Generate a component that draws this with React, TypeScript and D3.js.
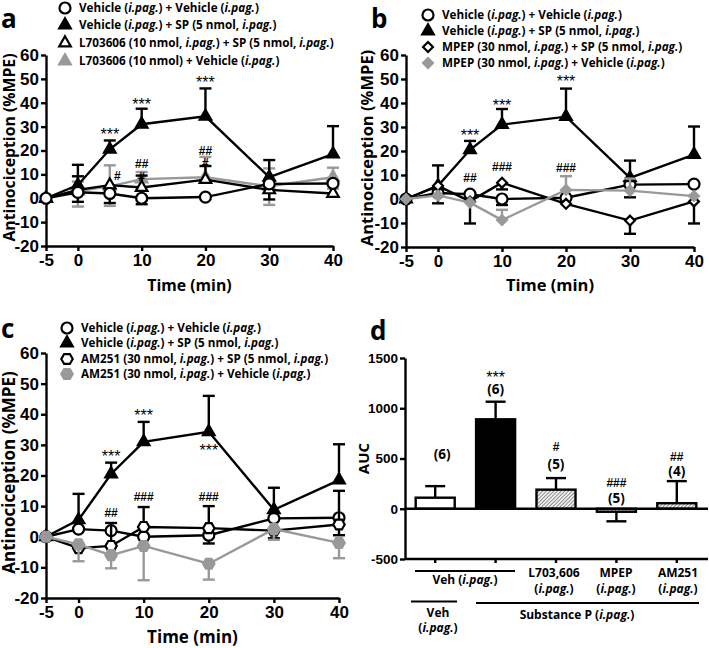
import React from "react";
import * as d3 from "d3";

const FONT = "'Open Sans', sans-serif";
const TICK_FONT = "'Liberation Sans', sans-serif";
const TIMES = [-5, 0, 5, 10, 20, 30, 40];
const X_TICKS = [-5, 0, 10, 20, 30, 40];
const Y_TICKS = [-20, -10, 0, 10, 20, 30, 40, 50, 60];
const BLACK = "#000";
const GREY = "#999";
const LINE_W = 2.4;

type Val = number | null;
type Row = {
  label: [string, boolean][];
  shape: string;
  color: string;
  fill: string;
  mean: number[];
  upper: Val[];
  lower: Val[];
};

const vehVehMean = [0, 2.5, 2, 0, 0.5, 6, 6.2];
const vehSpMean = [0, 5.5, 20.5, 31, 34.3, 8.8, 18.5];
const vehSpUpper: Val[] = [null, 14, 24.2, 37.5, 46, 16, 30.2];

const lSpMean = [0, 3.5, 5.5, 4.5, 7.8, 3.5, 2];
const lVehMean = [0, 3, 5, 8, 8.8, 5, 8.8];
const mSpMean = [0, 5.5, -1, 6.8, -2, -9, -1];
const mVehMean = [0, 1.5, -1.5, -8.8, 3.8, 3.5, 1.2];
const amSpMean = [0, -3.7, -3, 3.2, 2.8, 2, 4];
const amVehMean = [0, -2.5, -6, -3, -8.8, 2.5, -2];

const vehLabel: [string, boolean][] = [
  ["Vehicle (", false], ["i.pag.", true], [") + Vehicle (", false], ["i.pag.", true], [")", false],
];
const vehSpLabel: [string, boolean][] = [
  ["Vehicle (", false], ["i.pag.", true], [") + SP (5 nmol, ", false], ["i.pag.", true], [")", false],
];
const drugSpLabel = (d: string): [string, boolean][] => [
  [d + " nmol, ", false], ["i.pag.", true], [") + SP (5 nmol, ", false], ["i.pag.", true], [")", false],
];
const drugVehLabel = (d: string): [string, boolean][] => [
  [d + " nmol, ", false], ["i.pag.", true], [") + Vehicle (", false], ["i.pag.", true], [")", false],
];

const panelA: Row[] = [
  { label: vehLabel, shape: "circle", color: BLACK, fill: "#fff", mean: vehVehMean,
    upper: [null, 9.2, null, null, null, null, null], lower: [null, -1.5, -2, -2.5, null, null, null] },
  { label: vehSpLabel, shape: "triangle", color: BLACK, fill: BLACK, mean: vehSpMean, upper: vehSpUpper,
    lower: [null, null, null, null, null, null, null] },
  { label: drugSpLabel("L703606 (10"), shape: "triangle", color: BLACK, fill: "#fff", mean: lSpMean,
    upper: [null, null, null, 9.5, 13.5, null, null], lower: [null, null, null, null, null, -0.5, null] },
  { label: [["L703606 (10 nmol) + Vehicle (", false], ["i.pag.", true], [")", false]], shape: "triangle", color: GREY, fill: GREY, mean: lVehMean,
    upper: [null, 7, 13.8, 11, 17.3, 12.5, 12.8], lower: [null, -3.5, -3.2, -1, null, -2.8, 4] },
];
const orderA = [3, 1, 2, 0];

const panelB: Row[] = [
  { label: vehLabel, shape: "circle", color: BLACK, fill: "#fff", mean: vehVehMean,
    upper: [null, null, null, null, null, null, null], lower: [null, -1.8, null, -2.5, null, 0.7, null] },
  { label: vehSpLabel, shape: "triangle", color: BLACK, fill: BLACK, mean: vehSpMean, upper: vehSpUpper,
    lower: [null, null, null, null, null, null, null] },
  { label: drugSpLabel("MPEP (30"), shape: "diamond", color: BLACK, fill: "#fff", mean: mSpMean,
    upper: [null, null, null, null, null, null, null], lower: [null, null, -10.2, 4, null, -14.5, -10.2] },
  { label: drugVehLabel("MPEP (30"), shape: "diamond", color: GREY, fill: GREY, mean: mVehMean,
    upper: [null, null, null, -4.5, 9.5, 8.5, null], lower: [null, null, null, null, null, null, null] },
];
const orderB = [0, 1, 2, 3];

const panelC: Row[] = [
  { label: vehLabel, shape: "circle", color: BLACK, fill: "#fff", mean: vehVehMean,
    upper: [null, null, null, null, null, null, null], lower: [null, null, null, null, -2.2, null, null] },
  { label: vehSpLabel, shape: "triangle", color: BLACK, fill: BLACK, mean: vehSpMean, upper: vehSpUpper,
    lower: [null, null, null, null, null, null, null] },
  { label: drugSpLabel("AM251 (30"), shape: "hexagon", color: BLACK, fill: "#fff", mean: amSpMean,
    upper: [null, null, 4.5, 9.7, 10, null, 15], lower: [null, null, null, null, null, -0.5, 0.5] },
  { label: drugVehLabel("AM251 (30"), shape: "hexagon", color: GREY, fill: GREY, mean: amVehMean,
    upper: [null, null, null, null, null, null, null], lower: [null, -8, -10.3, -14.2, -14, -1, -7] },
];
const orderC = [0, 1, 2, 3];

// time, value (centre of the glyphs), text
const notesA: [number, number, string][] = [
  [5, 28.5, "***"], [10, 41, "***"], [20, 50, "***"], [6.2, 9.5, "#"],
  [10, 14.5, "##"], [20, 20, "##"], [20, 15, "#"], [10, 9, "#"],
];
const notesB: [number, number, string][] = [
  [5, 28, "***"], [10, 40.5, "***"], [20, 50.5, "***"], [5, 8.8, "##"], [10, 13.5, "###"], [20, 13, "###"],
];
const notesC: [number, number, string][] = [
  [5, 27.5, "***"], [10, 41, "***"], [20, 29.5, "***"], [5, 8, "##"], [10, 13, "###"], [20, 13, "###"],
];

const BAR_KEYS = ["veh", "sp", "l", "mpep", "am"];
const BAR_MEANS = [110, 890, 190, -30, 55];
const BAR_TOPS = [225, 1065, 305, -125, 275];
const BAR_FILLS = ["#fff", "#000", "url(#hatch)", "url(#hatch)", "url(#hatch)"];
const BAR_NOTES = ["", "***", "#", "###", "##"];
const BAR_NS = ["(6)", "(6)", "(5)", "(5)", "(4)"];
const BAR_NOTE_VALUES = [0, 1350, 620, 255, 515];
const BAR_N_VALUES = [545, 1190, 440, 110, 370];
const AUC_TICKS = [-500, 0, 500, 1000, 1500];

const hexagon = {
  draw(ctx: any, size: number) {
    const r = Math.sqrt(size / 2.598);
    for (let i = 0; i < 6; i++) {
      const a = (Math.PI / 3) * i;
      if (i === 0) ctx.moveTo(r * Math.cos(a), r * Math.sin(a));
      else ctx.lineTo(r * Math.cos(a), r * Math.sin(a));
    }
    ctx.closePath();
  },
};

const symbolPath = (shape: string) => {
  if (shape === "circle") return d3.symbol().type(d3.symbolCircle).size(95)()!;
  if (shape === "triangle") return d3.symbol().type(d3.symbolTriangle).size(58)()!;
  if (shape === "diamond") return d3.symbol().type(d3.symbolDiamond2).size(62)()!;
  return d3.symbol().type(hexagon as any).size(85)()!;
};

const addNote = (g: any, px: number, py: number, txt: string) => {
  const star = txt[0] === "*";
  g.append("text").attr("x", px).attr("y", py).attr("dy", star ? "0.6em" : "0.36em")
    .attr("text-anchor", "middle").attr("font-family", TICK_FONT)
    .attr("font-weight", star ? 400 : 700).attr("font-size", star ? 16 : 12).text(txt);
};

type Layout = {
  left: number; right: number; top: number; bottom: number;
  letter: string; letterX: number; letterY: number;
  legendMarkX: number; legendTextX: number; legendY: number[];
  titleX: number; titleSize: number; timeY: number;
};

const drawLine = (svg: any, rows: Row[], order: number[], notes: [number, number, string][], lay: Layout) => {
  const x = d3.scaleLinear().domain([-5, 40]).range([lay.left, lay.right]);
  const y = d3.scaleLinear().domain([-20, 60]).range([lay.bottom, lay.top]);
  const g = svg.append("g");

  const axisStyle = (sel: any) => {
    sel.select(".domain").attr("stroke-width", LINE_W).attr("stroke", "#000");
    sel.selectAll(".tick line").attr("stroke-width", LINE_W).attr("stroke", "#000");
    sel.selectAll(".tick text").attr("font-family", TICK_FONT).attr("font-weight", 700)
      .attr("font-size", 17).attr("fill", "#000");
  };

  g.append("g").attr("transform", `translate(0,${lay.bottom})`)
    .call(d3.axisBottom(x).tickValues(X_TICKS).tickSize(5).tickPadding(3).tickSizeOuter(0).tickFormat((d: any) => String(d)))
    .call(axisStyle);
  g.append("g").attr("transform", `translate(${lay.left},0)`)
    .call(d3.axisLeft(y).tickValues(Y_TICKS).tickSize(5).tickPadding(2).tickSizeOuter(0).tickFormat((d: any) => String(d)))
    .call(axisStyle);

  g.append("text")
    .attr("transform", `translate(${lay.titleX},${(lay.top + lay.bottom) / 2 - 3}) rotate(-90)`)
    .attr("text-anchor", "middle").attr("font-family", FONT).attr("font-weight", 700).attr("font-size", lay.titleSize)
    .text("Antinociception (%MPE)");
  g.append("text").attr("x", (lay.left + lay.right) / 2).attr("y", lay.timeY)
    .attr("text-anchor", "middle").attr("font-family", FONT).attr("font-weight", 700).attr("font-size", lay.titleSize)
    .text("Time (min)");
  g.append("text").attr("x", lay.letterX).attr("y", lay.letterY)
    .attr("font-family", FONT).attr("font-weight", 700).attr("font-size", 26).text(lay.letter);

  const line = d3.line<number>().x((_, i) => x(TIMES[i])).y((d) => y(d));

  order.forEach((k) => {
    const r = rows[k];
    const s = g.append("g");
    TIMES.forEach((t, i) => {
      [r.upper[i], r.lower[i]].forEach((end) => {
        if (end === null) return;
        s.append("line").attr("x1", x(t)).attr("x2", x(t)).attr("y1", y(r.mean[i])).attr("y2", y(end))
          .attr("stroke", r.color).attr("stroke-width", LINE_W);
        s.append("line").attr("x1", x(t) - 6).attr("x2", x(t) + 6).attr("y1", y(end)).attr("y2", y(end))
          .attr("stroke", r.color).attr("stroke-width", LINE_W);
      });
    });
    s.append("path").attr("d", line(r.mean)).attr("fill", "none").attr("stroke", r.color).attr("stroke-width", LINE_W);
    s.selectAll("path.mark").data(r.mean).enter().append("path").attr("class", "mark")
      .attr("transform", (d: number, i: number) => `translate(${x(TIMES[i])},${y(d)})`)
      .attr("d", symbolPath(r.shape)).attr("fill", r.fill).attr("stroke", r.color).attr("stroke-width", 2.2);
  });

  notes.forEach(([t, v, txt]) => addNote(g, x(t), y(v), txt));

  rows.forEach((r, k) => {
    g.append("path").attr("transform", `translate(${lay.legendMarkX},${lay.legendY[k]})`)
      .attr("d", symbolPath(r.shape)).attr("fill", r.fill).attr("stroke", r.color).attr("stroke-width", 2.2);
    const t = g.append("text").attr("x", lay.legendTextX).attr("y", lay.legendY[k]).attr("dy", "0.36em")
      .attr("font-family", FONT).attr("font-weight", 700).attr("font-size", 11.7);
    r.label.forEach(([part, italic]) => {
      t.append("tspan").attr("font-style", italic ? "italic" : "normal").text(part);
    });
  });
};

const drawBars = (svg: any) => {
  const left = 405;
  const right = 708;
  const top = 358;
  const bottom = 559;
  const x = d3.scaleBand<string>().domain(BAR_KEYS).range([left, left + 302]).paddingInner(0.354).paddingOuter(0.177).align(0.5);
  const y = d3.scaleLinear().domain([-500, 1500]).range([bottom, top]);
  const g = svg.append("g");

  const defs = svg.append("defs");
  const p = defs.append("pattern").attr("id", "hatch").attr("width", 2.6).attr("height", 2.6)
    .attr("patternUnits", "userSpaceOnUse").attr("patternTransform", "rotate(45)");
  p.append("rect").attr("width", 2.6).attr("height", 2.6).attr("fill", "#eee");
  p.append("line").attr("x1", 0).attr("x2", 0).attr("y1", 0).attr("y2", 2.6).attr("stroke", "#777").attr("stroke-width", 1.5);

  const style = (sel: any) => {
    sel.select(".domain").attr("stroke-width", LINE_W).attr("stroke", "#000");
    sel.selectAll(".tick line").attr("stroke-width", LINE_W).attr("stroke", "#000");
    sel.selectAll(".tick text").attr("font-family", TICK_FONT).attr("font-weight", 700).attr("font-size", 13.5).attr("fill", "#000");
  };
  g.append("g").attr("transform", `translate(${left},0)`)
    .call(d3.axisLeft(y).tickValues(AUC_TICKS).tickSize(5).tickPadding(2).tickSizeOuter(0).tickFormat((d: any) => String(d))).call(style);
  g.append("line").attr("x1", left).attr("x2", right).attr("y1", bottom).attr("y2", bottom)
    .attr("stroke", "#000").attr("stroke-width", LINE_W);
  g.append("g").attr("transform", `translate(0,${bottom})`)
    .call(d3.axisBottom(x).tickSize(4).tickSizeOuter(0).tickFormat(() => "")).call(style)
    .select(".domain").remove();

  BAR_KEYS.forEach((k, i) => {
    const cx = x(k)! + x.bandwidth() / 2;
    g.append("line").attr("x1", cx).attr("x2", cx).attr("y1", y(BAR_MEANS[i])).attr("y2", y(BAR_TOPS[i]))
      .attr("stroke", "#000").attr("stroke-width", LINE_W);
    g.append("line").attr("x1", cx - 10).attr("x2", cx + 10).attr("y1", y(BAR_TOPS[i])).attr("y2", y(BAR_TOPS[i]))
      .attr("stroke", "#000").attr("stroke-width", LINE_W);
    g.append("rect").attr("x", x(k)!).attr("width", x.bandwidth())
      .attr("y", Math.min(y(BAR_MEANS[i]), y(0))).attr("height", Math.abs(y(BAR_MEANS[i]) - y(0)))
      .attr("fill", BAR_FILLS[i]).attr("stroke", "#000").attr("stroke-width", LINE_W);
    g.append("text").attr("x", cx + (i === 0 ? 7 : 0)).attr("y", y(BAR_N_VALUES[i])).attr("dy", "0.36em")
      .attr("text-anchor", "middle").attr("font-family", FONT).attr("font-weight", 700).attr("font-size", 13.5).text(BAR_NS[i]);
    if (BAR_NOTES[i]) addNote(g, cx, y(BAR_NOTE_VALUES[i]), BAR_NOTES[i]);
  });
  g.append("line").attr("x1", left).attr("x2", right).attr("y1", y(0)).attr("y2", y(0))
    .attr("stroke", "#000").attr("stroke-width", LINE_W);

  g.append("text").attr("transform", `translate(364,${y(500)}) rotate(-90)`).attr("dy", "0.36em")
    .attr("text-anchor", "middle").attr("font-family", FONT).attr("font-weight", 700).attr("font-size", 15).text("AUC");
  g.append("text").attr("x", 370).attr("y", 340).attr("font-family", FONT).attr("font-weight", 700).attr("font-size", 26).text("d");

  const rule = (x1: number, x2: number, yy: number) =>
    g.append("line").attr("x1", x1).attr("x2", x2).attr("y1", yy).attr("y2", yy).attr("stroke", "#000").attr("stroke-width", 2);
  rule(415, 515, 571);
  rule(411, 457, 601.5);
  rule(476, 699, 603);

  const label = (cx: number, yy: number, parts: [string, boolean][]) => {
    const t = g.append("text").attr("x", cx).attr("y", yy).attr("text-anchor", "middle")
      .attr("font-family", FONT).attr("font-weight", 700).attr("font-size", 12);
    parts.forEach(([s, it]) => t.append("tspan").attr("font-style", it ? "italic" : "normal").text(s));
  };
  const pag: [string, boolean][] = [["(", false], ["i.pag.", true], [")", false]];
  label(465, 584, [["Veh (", false], ["i.pag.", true], [")", false]]);
  label(554, 577, [["L703,606", false]]);
  label(554, 593, pag);
  label(616, 577, [["MPEP", false]]);
  label(616, 593, pag);
  label(678, 577, [["AM251", false]]);
  label(678, 593, pag);
  label(438, 617, [["Veh", false]]);
  label(438, 632, pag);
  label(577, 619, [["Substance P (", false], ["i.pag.", true], [")", false]]);
};

export default function App() {
  const ref = React.useRef<SVGSVGElement>(null);

  React.useEffect(() => {
    const svg = d3.select(ref.current!);
    svg.selectAll("*").remove();
    drawLine(svg, panelA, orderA, notesA, {
      left: 46, right: 333, top: 55, bottom: 246, letter: "a", letterX: 1, letterY: 28,
      legendMarkX: 65, legendTextX: 79, legendY: [8, 25, 43, 61], titleX: 15, titleSize: 15.8, timeY: 291,
    });
    drawLine(svg, panelB, orderB, notesB, {
      left: 406, right: 694, top: 55, bottom: 247, letter: "b", letterX: 371, letterY: 28,
      legendMarkX: 428, legendTextX: 442, legendY: [15, 31, 47, 63], titleX: 373, titleSize: 16.5, timeY: 291,
    });
    drawLine(svg, panelC, orderC, notesC, {
      left: 46, right: 339, top: 353, bottom: 598, letter: "c", letterX: 1, letterY: 338,
      legendMarkX: 67, legendTextX: 81, legendY: [328, 343, 359, 374], titleX: 15, titleSize: 17, timeY: 643,
    });
    drawBars(svg);
  }, []);

  return (
    <svg ref={ref} width={709} height={648} style={{ position: "absolute", left: 0, top: 0, background: "#fff" }} />
  );
}
